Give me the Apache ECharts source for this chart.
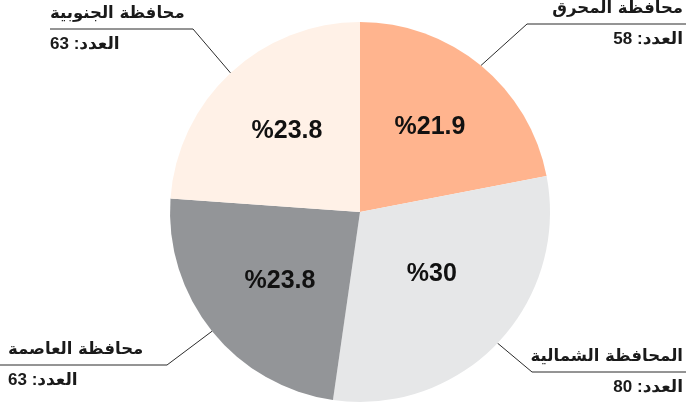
<!DOCTYPE html>
<html><head><meta charset="utf-8">
<script src="https://cdn.jsdelivr.net/npm/echarts@6/dist/echarts.min.js"></script>
<style>html,body{margin:0;padding:0;background:#fff}#c{width:686px;height:405px}</style>
</head><body><div id="c"></div>
<script>
const names = ['محافظة المحرق', 'المحافظة الشمالية', 'محافظة العاصمة', 'محافظة الجنوبية'];
const counts = [58, 80, 63, 63];
const percents = ['21.9', '30', '23.8', '23.8'];
const countLabel = 'العدد:';
const colors = ['#FFB48E', '#E6E7E8', '#939598', '#FFF1E7'];

// label layout (positions only)
const labelPos = [
  {x: 683, y: 24, align: 'right', inner: 527, outer: 686},
  {x: 683, y: 372, align: 'right', inner: 532, outer: 686},
  {x: 8, y: 365, align: 'left', inner: 167, outer: 0},
  {x: 50, y: 29, align: 'left', inner: 193, outer: 50}
];
const pctOffset = [[-2, 2], [-10, -16], [8, -2], [4, 2]];
const CX = 360, CY = 212, R = 190;
const total = counts.reduce((a, b) => a + b, 0);
function edgePoint(i) {
  let before = 0;
  for (let k = 0; k < i; k++) before += counts[k];
  const mid = (before + counts[i] / 2) / total * Math.PI * 2;
  return [CX + R * Math.sin(mid), CY - R * Math.cos(mid)];
}

const data = names.map((n, i) => ({name: n, value: counts[i], itemStyle: {color: colors[i]}}));
const numFont = "'Liberation Sans Narrow', 'Liberation Sans', 'DejaVu Sans', sans-serif";
const chart = echarts.init(document.getElementById('c'), null, {renderer: 'canvas'});
chart.setOption({
  animation: false,
  series: [
    {
      type: 'pie', center: [CX, CY], radius: [0, R], startAngle: 90, clockwise: true,
      silent: true, data: data,
      itemStyle: {borderWidth: 0},
      label: {
        show: true, position: 'outside', overflow: 'none', width: 300,
        formatter: p => '{n|' + p.name + '}\n{c|' + countLabel + ' ' + p.value + '}',
        rich: {
          n: {fontFamily: "'DejaVu Sans', sans-serif", fontWeight: 'bold', fontSize: 16.5, color: '#1a1a1a', lineHeight: 31},
          c: {fontFamily: numFont, fontWeight: 'bold', fontSize: 17, color: '#1a1a1a', lineHeight: 31}
        }
      },
      labelLine: {show: true, lineStyle: {color: '#2b2b2b', width: 1}},
      labelLayout: function (params) {
        const i = params.dataIndex;
        const L = labelPos[i];
        const e = (params.labelLinePoints && params.labelLinePoints[0]) || edgePoint(i);
        return {
          x: L.x, y: L.y, align: L.align, verticalAlign: 'middle',
          labelLinePoints: [e, [L.inner, L.y], [L.outer, L.y]]
        };
      }
    },
    {
      type: 'pie', center: [CX, CY], radius: [30, R], startAngle: 90, clockwise: true,
      silent: true,
      data: names.map((n, i) => ({name: n, value: counts[i], itemStyle: {color: 'rgba(0,0,0,0)'}})),
      label: {
        show: true, position: 'inside',
        formatter: p => '%' + percents[p.dataIndex],
        fontFamily: numFont, fontWeight: 'bold', fontSize: 25, color: '#111'
      },
      labelLine: {show: false},
      labelLayout: function (params) {
        const o = pctOffset[params.dataIndex];
        return {dx: o[0], dy: o[1]};
      }
    }
  ]
});
</script></body></html>
